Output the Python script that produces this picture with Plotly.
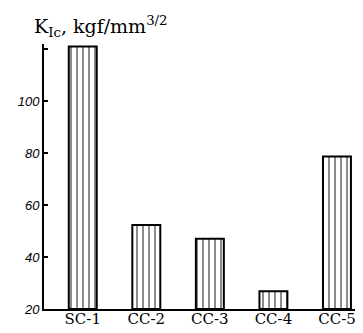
import plotly.graph_objects as go

categories = ["SC-1", "CC-2", "CC-3", "CC-4", "CC-5"]
kic_values = [121, 52.3, 47, 26.8, 78.7]
y_tick_vals = [20, 40, 60, 80, 100, 120]
y_tick_text = ["20", "40", "60", "80", "100", ""]

fig = go.Figure()
fig.add_trace(go.Bar(
    x=list(range(len(categories))),
    y=[v - 20 for v in kic_values],
    base=20,
    width=0.44,
    marker=dict(
        color="white",
        line=dict(color="black", width=2),
        pattern=dict(shape="|", fgcolor="black", bgcolor="white", size=6, solidity=0.3),
    ),
))

fig.update_layout(
    width=363, height=333,
    margin=dict(l=36, r=1, t=36, b=32),
    plot_bgcolor="white", paper_bgcolor="white",
    showlegend=False,
    xaxis=dict(
        range=[-0.61, 4.52],
        tickvals=list(range(len(categories))),
        ticktext=categories,
        showline=True, linecolor="black", linewidth=2,
        showgrid=False, zeroline=False, ticks="",
        automargin=False,
        ticklabelstandoff=-5,
        tickfont=dict(family="DejaVu Serif", size=15, color="black"),
    ),
    yaxis=dict(
        range=[20, 122],
        tickvals=y_tick_vals,
        ticktext=y_tick_text,
        showline=True, linecolor="black", linewidth=2,
        showgrid=False, zeroline=False,
        automargin=False,
        ticks="inside", ticklen=4, tickcolor="black", tickwidth=1.5,
        tickfont=dict(family="Liberation Sans Narrow, Liberation Sans", size=13, color="black", style="italic"),
    ),
    annotations=[dict(
        text="K<sub>Ic</sub>, kgf/mm<sup>3/2</sup>",
        xref="paper", yref="paper", x=0.0, y=1.0, yshift=2, xshift=-12,
        xanchor="left", yanchor="bottom", showarrow=False,
        font=dict(family="DejaVu Serif", size=19, color="black"),
    )],
)

fig.write_html("out.html")
